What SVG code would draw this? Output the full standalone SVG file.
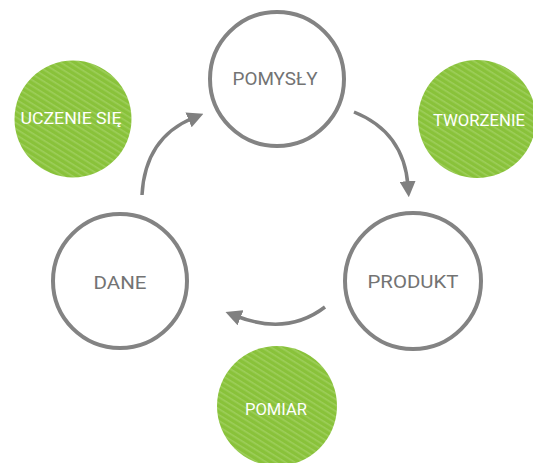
<svg xmlns="http://www.w3.org/2000/svg" width="533" height="463" viewBox="0 0 533 463">
<defs>
<pattern id="stripes" width="5" height="5" patternUnits="userSpaceOnUse" patternTransform="rotate(32)">
<rect width="5" height="5" fill="#89c23a"/>
<rect y="0" width="5" height="1.6" fill="#9dce5a"/>
</pattern>
<marker id="ah" viewBox="0 0 10 10" refX="3" refY="5" markerWidth="4.6" markerHeight="4.6" orient="auto" markerUnits="strokeWidth">
<path d="M0,0 L10,5 L0,10 Z" fill="#808080"/>
</marker>
<style>
.ring{fill:#fff;stroke:#838383;stroke-width:4}
.green{fill:url(#stripes)}
.lbl{font-family:Roboto,"Liberation Sans",Arial,sans-serif;font-weight:400;font-size:19px;fill:#737373;text-anchor:middle}
.glbl{font-family:Roboto,"Liberation Sans",Arial,sans-serif;font-weight:400;font-size:16px;fill:#fff;text-anchor:middle}
.arr{fill:none;stroke:#808080;stroke-width:3.5;marker-end:url(#ah)}
</style>
</defs>
<rect width="533" height="463" fill="#fff"/>
<g id="uczenie">
<circle class="green" cx="73" cy="119" r="58.5"/>
<text class="glbl" x="71" y="124" textLength="101" lengthAdjust="spacingAndGlyphs">UCZENIE SIĘ</text>
</g>
<g id="tworzenie">
<circle class="green" cx="477" cy="119" r="59"/>
<text class="glbl" x="479" y="126" textLength="92" lengthAdjust="spacingAndGlyphs">TWORZENIE</text>
</g>
<g id="pomiar">
<circle class="green" cx="277" cy="406" r="60"/>
<text class="glbl" x="276" y="415" textLength="62" lengthAdjust="spacingAndGlyphs">POMIAR</text>
</g>
<g id="pomysly">
<circle class="ring" cx="277" cy="79" r="67"/>
<text class="lbl" x="275" y="85" textLength="85" lengthAdjust="spacingAndGlyphs">POMYSŁY</text>
</g>
<g id="dane">
<circle class="ring" cx="120" cy="281" r="67"/>
<text class="lbl" x="120" y="289" textLength="53" lengthAdjust="spacingAndGlyphs">DANE</text>
</g>
<g id="produkt">
<circle class="ring" cx="413" cy="281" r="68"/>
<text class="lbl" x="413" y="288" textLength="91" lengthAdjust="spacingAndGlyphs">PRODUKT</text>
</g>
<g id="connectors">
<path class="arr" d="M354,112 Q404,132 408,186"/>
<path class="arr" d="M325,307 Q287,336 236,316"/>
<path class="arr" d="M142,195 Q145,138 193,118"/>
</g>
</svg>
